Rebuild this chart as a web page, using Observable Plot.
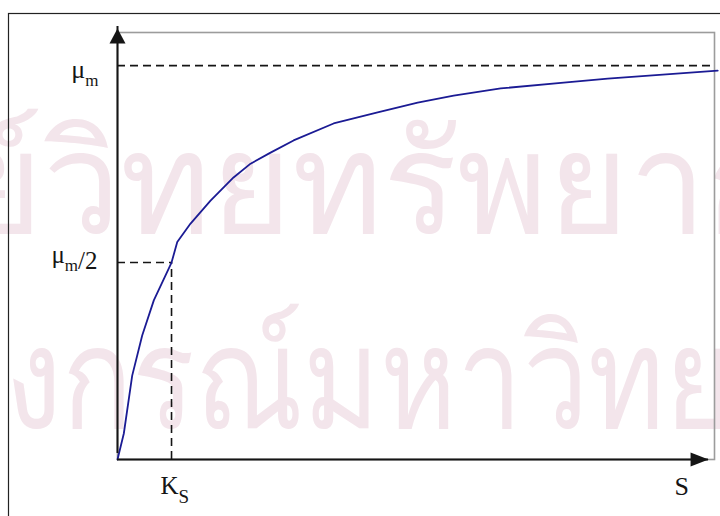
<!DOCTYPE html>
<html>
<head>
<meta charset="utf-8">
<script src="https://cdn.jsdelivr.net/npm/d3@7"></script>
<script src="https://cdn.jsdelivr.net/npm/@observablehq/plot@0.6"></script>
<style>
  html, body { margin: 0; padding: 0; background: #fff; }
  #chart { width: 720px; height: 516px; overflow: hidden; }
</style>
</head>
<body>
<div id="chart"></div>
<script>
// Monod growth curve: specific growth rate μ against substrate concentration S
const substrate = [0, 0.117, 0.272, 0.457, 0.672, 1.0, 1.106, 1.352, 1.722, 2.148, 2.463, 2.833, 3.259, 4.0, 4.815, 5.556, 6.222, 7.093, 8.259, 9.074, 11.11];
const growthRate = [0, 0.066, 0.213, 0.315, 0.404, 0.5, 0.552, 0.599, 0.657, 0.716, 0.751, 0.779, 0.810, 0.853, 0.881, 0.906, 0.924, 0.942, 0.957, 0.967, 0.987];

const muMax = 1;        // μm
const muHalf = 0.5;     // μm/2
const Ks = 1;           // half-saturation constant
const sAxisEnd = 10.94; // tip of the S axis arrow
const sMax = 11.05;
const muTop = 1.084;
const sDashEnd = 10.98;

// "_" marks the character that is set as a subscript
const yLabels = ["μ_m", "μ_m/2"];
const xLabels = ["K_S", "S"];

const watermark = ["ศูนย์วิทยทรัพยากร", "จุฬาลงกรณ์มหาวิทยาลัย"];
const watermarkLength = [1083, 1218]; // condensed line lengths, px

const curve = substrate.map((s, i) => ({s, mu: growthRate[i]}));

// filled arrowheads, tip at the origin, pointing up
const arrowY = {draw(ctx) { ctx.moveTo(0, 0); ctx.lineTo(8, 15); ctx.lineTo(-8, 15); ctx.closePath(); }};
const arrowX = {draw(ctx) { ctx.moveTo(0, 0); ctx.lineTo(7, 18); ctx.lineTo(-7, 18); ctx.closePath(); }};

const serif = "'Liberation Serif', 'Times New Roman', serif";
const ink = "#151515";
const wmColor = "#f3e5eb";

const plot = Plot.plot({
  width: 720,
  height: 516,
  marginLeft: 117,
  marginRight: 6,
  marginTop: 32,
  marginBottom: 57,
  x: {domain: [0, sMax], axis: null},
  y: {domain: [0, muTop], axis: null},
  style: {background: "white", overflow: "hidden"},
  marks: [
    // faint background lettering
    Plot.text([watermark[0]], {frameAnchor: "top-left", dx: -337, dy: 100, text: d => d, textAnchor: "start", lineAnchor: "top",
      fontSize: 142, fill: wmColor, fontWeight: 500, fontFamily: "'Noto Sans', sans-serif"}),
    Plot.text([watermark[1]], {frameAnchor: "top-left", dx: -397, dy: 295, text: d => d, textAnchor: "start", lineAnchor: "top",
      fontSize: 142, fill: wmColor, fontWeight: 500, fontFamily: "'Noto Sans', sans-serif"}),
    // outer border and grey plot box
    Plot.frame({stroke: "#222", strokeWidth: 1.2, insetLeft: -109, insetTop: -19, insetRight: -40, insetBottom: -90}),
    Plot.frame({stroke: "#9c9c9c", strokeWidth: 1.6}),
    // reference levels
    Plot.ruleY([muMax], {x1: 0, x2: sDashEnd, stroke: ink, strokeWidth: 1.6, strokeDasharray: "8,5"}),
    Plot.ruleY([muHalf], {x1: 0, x2: Ks, stroke: ink, strokeWidth: 1.6, strokeDasharray: "8,5"}),
    Plot.ruleX([Ks], {y1: 0, y2: muHalf, stroke: ink, strokeWidth: 1.6, strokeDasharray: "8,5"}),
    // growth curve
    Plot.line(curve, {x: "s", y: "mu", stroke: "#1b1b94", strokeWidth: 1.8}),
    // axes with arrowheads
    Plot.ruleX([0], {y1: 0, y2: muTop, stroke: ink, strokeWidth: 2, dy: -6}),
    Plot.ruleY([0], {x1: 0, x2: sAxisEnd, stroke: ink, strokeWidth: 2}),
    Plot.dot([0], {x: 0, y: muTop, dy: -4, symbol: arrowY, fill: ink, stroke: null}),
    Plot.dot([0], {x: sAxisEnd, y: 0, symbol: arrowX, rotate: 90, fill: ink, stroke: null}),
    // axis labels
    Plot.text([yLabels[0]], {x: 0, y: muMax, text: d => d, textAnchor: "end", lineAnchor: "bottom", dx: -19, dy: 12, fontSize: 26, fontFamily: serif, fill: ink}),
    Plot.text([yLabels[1]], {x: 0, y: muHalf, text: d => d, textAnchor: "end", lineAnchor: "bottom", dx: -20, dy: 0, fontSize: 25, fontFamily: serif, fill: ink}),
    Plot.text([xLabels[0]], {x: Ks, y: 0, text: d => d, textAnchor: "start", lineAnchor: "bottom", dx: -11, dy: 34, fontSize: 25, fontFamily: serif, fill: ink}),
    Plot.text([xLabels[1]], {x: sAxisEnd, y: 0, text: d => d, textAnchor: "start", lineAnchor: "bottom", dx: -34, dy: 35, fontSize: 26, fontFamily: serif, fill: ink})
  ]
});

// subscript size and baseline shift for each label, then the shift back for the rest
const subStyle = {
  "μ_m": {size: 17, shift: 8, back: 0},
  "μ_m/2": {size: 17, shift: 8, back: -2},
  "K_S": {size: 19, shift: 9, back: 0}
};
d3.select(plot).selectAll("text").each(function() {
  const label = this.textContent;
  const st = subStyle[label];
  if (!st) return;
  const [base, tail] = label.split("_");
  const el = d3.select(this).text(null);
  el.append("tspan").text(base);
  el.append("tspan").attr("dy", st.shift).attr("font-size", st.size).text(tail[0]);
  if (tail.length > 1) el.append("tspan").attr("dy", st.back).text(tail.slice(1));
});

// condense the background lines to their set lengths
d3.select(plot).selectAll("text").each(function() {
  const i = watermark.indexOf(this.textContent);
  if (i < 0) return;
  d3.select(this).attr("textLength", watermarkLength[i]).attr("lengthAdjust", "spacingAndGlyphs");
});

document.getElementById("chart").appendChild(plot);
</script>
</body>
</html>
